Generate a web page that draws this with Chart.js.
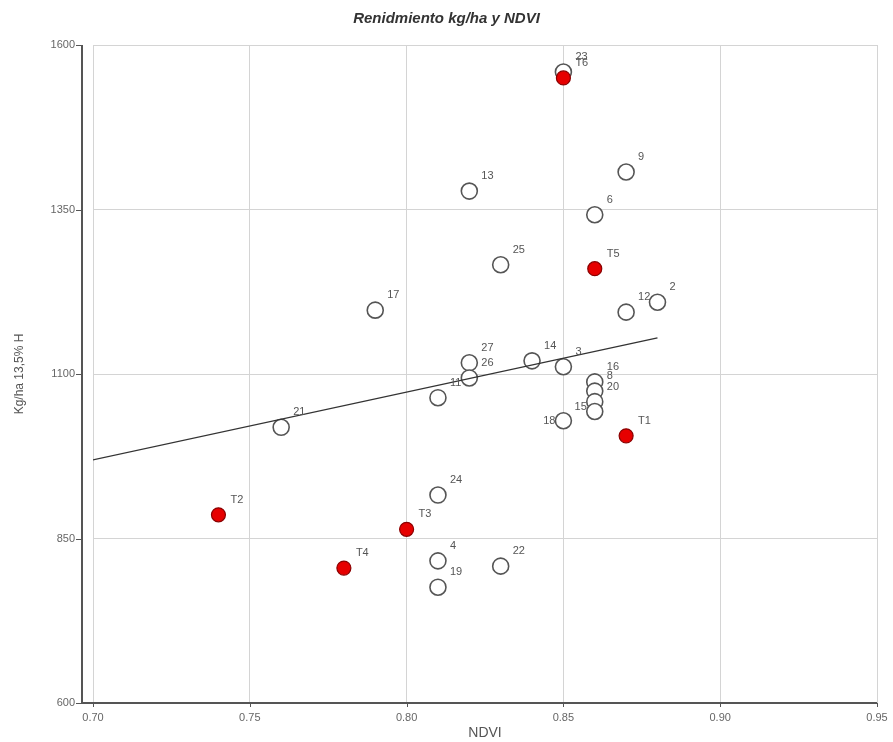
<!DOCTYPE html>
<html>
<head>
<meta charset="utf-8">
<script src="https://cdn.jsdelivr.net/npm/chart.js@4.4.0/dist/chart.umd.min.js"></script>
<style>
  html, body { margin: 0; padding: 0; background: #ffffff; }
  #wrap { width: 893px; height: 742px; }
</style>
</head>
<body>
<div id="wrap"><canvas id="c" width="893" height="742"></canvas></div>
<script>
// ---- data ----
const openLabels = ['23','9','13','6','25','17','12','2','27','26','11','14','3','16','8','20','15','18','21','24','4','22','19'];
const openNDVI   = [0.85,0.87,0.82,0.86,0.83,0.79,0.87,0.88,0.82,0.82,0.81,0.84,0.85,0.86,0.86,0.86,0.86,0.85,0.76,0.81,0.81,0.83,0.81];
const openYield  = [1559,1407,1378,1342,1266,1197,1194,1209,1117,1094,1064,1120,1111,1088,1074,1058,1043,1029,1019,916,816,808,776];

const redLabels = ['T1','T2','T3','T4','T5','T6'];
const redNDVI   = [0.87,0.74,0.80,0.78,0.86,0.85];
const redYield  = [1006,886,864,805,1260,1550];

const trendNDVI  = [0.6995, 0.88];
const trendYield = [969, 1155];

const xTicks = [0.70, 0.75, 0.80, 0.85, 0.90, 0.95];
const yTicks = [600, 850, 1100, 1350, 1600];

const leftLabeled = ['15','18'];

const toPts = (xs, ys) => xs.map((x, i) => ({ x: x, y: ys[i] }));

const labelPlugin = {
  id: 'pointLabels',
  afterDatasetsDraw(chart) {
    const ctx = chart.ctx;
    ctx.save();
    ctx.font = '11px "Liberation Sans", Arial, sans-serif';
    ctx.fillStyle = '#555';
    ctx.textBaseline = 'middle';
    [0, 1].forEach(di => {
      const ds = chart.data.datasets[di];
      const meta = chart.getDatasetMeta(di);
      meta.data.forEach((el, i) => {
        const lab = ds.pointLabels[i];
        if (leftLabeled.includes(lab)) {
          ctx.textAlign = 'right';
          ctx.fillText(lab, el.x - 8, el.y - (lab === '15' ? 5 : 0));
        } else {
          ctx.textAlign = 'left';
          ctx.fillText(lab, el.x + 12, el.y - 15);
        }
      });
    });
    ctx.restore();
  }
};

const axisPlugin = {
  id: 'offsetAxes',
  afterDraw(chart) {
    const ctx = chart.ctx;
    const a = chart.chartArea;
    const xs = chart.scales.x, ys = chart.scales.y;
    const ax = a.left - 11;
    ctx.save();
    ctx.strokeStyle = '#555';
    ctx.lineWidth = 2;
    ctx.beginPath();
    ctx.moveTo(ax, a.top);
    ctx.lineTo(ax, a.bottom + 1);
    ctx.moveTo(ax, a.bottom);
    ctx.lineTo(a.right, a.bottom);
    ctx.stroke();
    ctx.lineWidth = 1;
    ctx.beginPath();
    yTicks.forEach(v => {
      const py = Math.round(ys.getPixelForValue(v)) + 0.5;
      ctx.moveTo(ax - 6, py);
      ctx.lineTo(ax, py);
    });
    xTicks.forEach(v => {
      const px = Math.round(xs.getPixelForValue(v)) + 0.5;
      ctx.moveTo(px, a.bottom);
      ctx.lineTo(px, a.bottom + 4);
    });
    ctx.stroke();
    ctx.restore();
  }
};

new Chart(document.getElementById('c'), {
  type: 'scatter',
  data: {
    datasets: [
      {
        data: toPts(openNDVI, openYield),
        pointLabels: openLabels,
        pointRadius: 8,
        pointHoverRadius: 8,
        pointBackgroundColor: '#ffffff',
        pointBorderColor: '#555555',
        pointBorderWidth: 1.6,
        order: 2
      },
      {
        data: toPts(redNDVI, redYield),
        pointLabels: redLabels,
        pointRadius: 7,
        pointHoverRadius: 7,
        pointBackgroundColor: '#e60000',
        pointBorderColor: '#8a0000',
        pointBorderWidth: 1.2,
        order: 1
      },
      {
        type: 'line',
        data: toPts(trendNDVI, trendYield),
        borderColor: '#333333',
        borderWidth: 1.3,
        pointRadius: 0,
        fill: false,
        order: 0
      }
    ]
  },
  options: {
    responsive: false,
    animation: false,
    layout: { padding: { left: 0, right: 0, top: 0, bottom: 0 } },
    plugins: {
      legend: { display: false },
      tooltip: { enabled: false },
      title: {
        display: true,
        text: 'Renidmiento kg/ha y NDVI',
        color: '#333',
        font: { family: '"Liberation Sans", Arial, sans-serif', size: 15, weight: 'bold', style: 'italic' },
        padding: { top: 10, bottom: 17 }
      }
    },
    scales: {
      x: {
        type: 'linear',
        min: 0.70,
        max: 0.95,
        afterBuildTicks(s) { s.ticks = xTicks.map(v => ({ value: v })); },
        afterFit(s) { s.height = 39; s.paddingRight = 16; s.paddingLeft = 0; },
        border: { display: false },
        grid: { color: '#d4d4d4', lineWidth: 1, drawTicks: false },
        ticks: {
          color: '#666',
          padding: 8,
          font: { family: '"Liberation Sans", Arial, sans-serif', size: 11 },
          callback: v => v.toFixed(2)
        },
        title: {
          display: true,
          text: 'NDVI',
          color: '#555',
          padding: { top: 0, bottom: 0 },
          font: { family: '"Liberation Sans", Arial, sans-serif', size: 14 }
        }
      },
      y: {
        type: 'linear',
        min: 600,
        max: 1600,
        afterBuildTicks(s) { s.ticks = yTicks.map(v => ({ value: v })); },
        afterFit(s) { s.width = 93; },
        border: { display: false },
        grid: { color: '#d4d4d4', lineWidth: 1, drawTicks: false },
        ticks: {
          color: '#666',
          padding: 18,
          font: { family: '"Liberation Sans", Arial, sans-serif', size: 11 },
          callback: v => String(v)
        },
        title: {
          display: true,
          text: 'Kg/ha 13,5% H',
          color: '#555',
          padding: { top: 12, bottom: 0 },
          font: { family: '"Liberation Sans", Arial, sans-serif', size: 12 }
        }
      }
    }
  },
  plugins: [labelPlugin, axisPlugin]
});
</script>
</body>
</html>
